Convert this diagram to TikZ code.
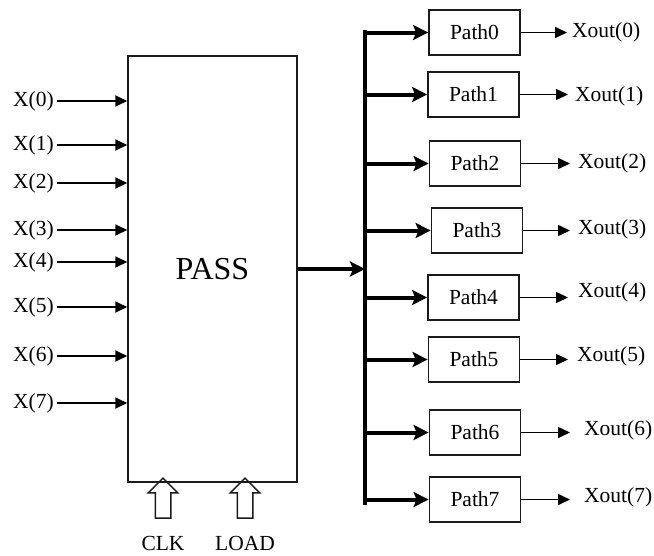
\documentclass[tikz,border=0pt]{standalone}
\usepackage{fontspec}
\setmainfont{Liberation Serif}
\usetikzlibrary{arrows.meta,shapes.arrows}

\tikzset{
    label/.style={inner sep=3pt, font=\fontsize{21.5}{24}\selectfont},
    pathbox/.style={draw=borderColour, line width=1.8pt, minimum width=91pt, minimum height=45pt, inner sep=0pt, font=\fontsize{21.5}{24}\selectfont},
    inarrow/.style={-{Triangle[length=12pt,width=11pt]}, line width=1.8pt},
    outarrow/.style={-{Triangle[length=12pt,width=11pt]}, line width=1.6pt},
    busarrow/.style={-{Stealth[length=15pt,width=15pt,inset=3pt]}, line width=4pt},
    ctrlarrow/.style={single arrow, draw=borderColour, line width=1.5pt, minimum height=40pt, inner sep=7pt, single arrow head extend=7pt, single arrow head indent=0pt, shape border rotate=90}
}

\begin{document}
\begin{tikzpicture}[x=1pt,y=-1pt]
    \definecolor{borderColour}{HTML}{1A1A1A}
    \useasboundingbox (0,0) rectangle (654,555);

    % PASS block
    \node[draw=borderColour, line width=1.5pt, minimum width=169pt, minimum height=426pt, font=\fontsize{32}{36}\selectfont] (pass) at (212.5,269) {PASS};

    % Inputs X(0) ... X(7)
    \foreach \i/\y in {0/101,1/145,2/183,3/230,4/262,5/307,6/356,7/403} {
        \node[label, anchor=east] (x\i) at (57,\y) {X(\i)};
        \draw[inarrow] (x\i.east) -- (x\i -| pass.west);
    }

    % Clock and load inputs
    \node[ctrlarrow] (clkarrow) at (163,502) {};
    \node[ctrlarrow] (loadarrow) at (245,502) {};
    \node[label] (clk) at (163,543) {CLK};
    \node[label] (load) at (245,543) {LOAD};

    % Bus to the paths
    \coordinate (bustop) at (365,32);
    \coordinate (busbot) at (365,503);
    \draw[line width=4.5pt, line cap=rect] (bustop) -- (busbot);
    \draw[busarrow] (pass.east) -- (pass.east -| bustop);

    % Path blocks and outputs
    \foreach \i/\x/\y/\tx/\ty/\ax in {0/474.5/32.5/569/32/567, 1/473.5/94.5/572/96/568,
        2/475/163.5/575/163/570, 3/477/230.5/575/229/570, 4/473.5/297.5/575/292/568,
        5/474/359.5/574/356/568, 6/475/432.5/581/430/570, 7/475/499.5/581/497/570} {
        \node[pathbox] (path\i) at (\x,\y) {Path\i};
        \draw[busarrow] (path\i.west -| bustop) -- (path\i.west);
        \node[label, anchor=west] (xout\i) at (\tx,\ty) {Xout(\i)};
        \coordinate (end\i) at (\ax,\y);
        \draw[outarrow] (path\i.east) -- (end\i);
    }

\end{tikzpicture}
\end{document}
